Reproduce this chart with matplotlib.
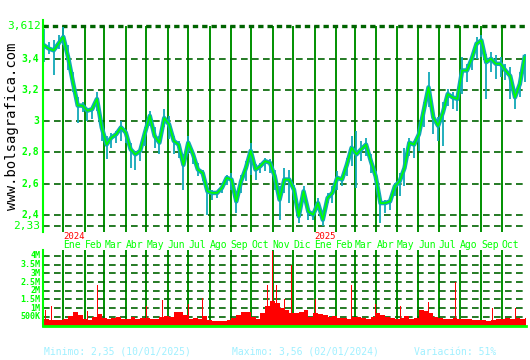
import matplotlib
matplotlib.use('Agg')
import matplotlib.pyplot as plt
import pandas as pd

# weekly closes / highs / lows, starting monday 2023-12-04
close = [3.486, 3.465, 3.454, 3.497, 3.540, 3.410, 3.250, 3.100, 3.100, 3.067,
         3.077, 3.142, 2.960, 2.850, 2.895, 2.916, 2.960, 2.927, 2.820, 2.787,
         2.810, 2.927, 3.034, 2.905, 2.862, 3.020, 2.980, 2.873, 2.850, 2.720,
         2.862, 2.787, 2.690, 2.668, 2.550, 2.540, 2.540, 2.572, 2.637, 2.626,
         2.486, 2.615, 2.700, 2.810, 2.690, 2.712, 2.744, 2.733, 2.647, 2.497,
         2.626, 2.626, 2.561, 2.390, 2.550, 2.420, 2.400, 2.475, 2.368, 2.508,
         2.540, 2.637, 2.626, 2.720, 2.830, 2.787, 2.820, 2.850, 2.744, 2.647,
         2.475, 2.475, 2.486, 2.583, 2.615, 2.700, 2.862, 2.850, 2.916, 3.067,
         3.217, 3.024, 2.970, 3.056, 3.174, 3.153, 3.142, 3.325, 3.325, 3.400,
         3.497, 3.518, 3.378, 3.400, 3.368, 3.368, 3.325, 3.290, 3.153, 3.238,
         3.410]
high = [3.594, 3.508, 3.519, 3.551, 3.605, 3.486, 3.314, 3.153, 3.120, 3.067,
        3.077, 3.185, 3.003, 2.905, 2.927, 2.938, 3.003, 2.938, 2.862, 2.787,
        2.830, 2.960, 3.067, 2.960, 2.905, 3.077, 3.034, 2.905, 2.873, 2.787,
        2.905, 2.810, 2.733, 2.690, 2.583, 2.560, 2.550, 2.583, 2.658, 2.668,
        2.508, 2.658, 2.744, 2.862, 2.723, 2.733, 2.766, 2.755, 2.690, 2.583,
        2.701, 2.690, 2.594, 2.422, 2.583, 2.443, 2.411, 2.508, 2.400, 2.540,
        2.583, 2.680, 2.637, 2.766, 2.905, 2.938, 2.873, 2.895, 2.787, 2.680,
        2.540, 2.497, 2.508, 2.605, 2.668, 2.830, 2.895, 2.873, 2.960, 3.120,
        3.314, 3.077, 3.024, 3.120, 3.207, 3.185, 3.174, 3.411, 3.368, 3.432,
        3.540, 3.551, 3.432, 3.443, 3.422, 3.411, 3.368, 3.347, 3.174, 3.314,
        3.432]
low = [3.379, 3.432, 3.293, 3.465, 3.486, 3.325, 3.185, 2.991, 3.056, 3.003,
       3.013, 3.067, 2.873, 2.756, 2.830, 2.862, 2.873, 2.862, 2.701, 2.690,
       2.744, 2.840, 2.970, 2.830, 2.787, 2.960, 2.884, 2.787, 2.766, 2.560,
       2.787, 2.723, 2.647, 2.615, 2.401, 2.497, 2.508, 2.540, 2.594, 2.561,
       2.411, 2.540, 2.615, 2.658, 2.626, 2.669, 2.680, 2.669, 2.561, 2.368,
       2.540, 2.475, 2.497, 2.347, 2.497, 2.368, 2.368, 2.433, 2.326, 2.475,
       2.475, 2.561, 2.583, 2.647, 2.712, 2.572, 2.744, 2.776, 2.669, 2.583,
       2.347, 2.411, 2.433, 2.519, 2.519, 2.583, 2.776, 2.766, 2.808, 2.960,
       3.088, 2.917, 2.873, 2.842, 3.098, 3.077, 3.067, 3.174, 3.250, 3.325,
       3.400, 3.411, 3.142, 3.314, 3.271, 3.282, 3.261, 3.142, 3.077, 3.152,
       3.250]

# weekly base volume (thousands)
volume_k = [350, 300, 330, 300, 380, 550, 800, 600, 350, 330,
            500, 650, 450, 400, 450, 500, 400, 400, 500, 380,
            450, 450, 350, 400, 500, 550, 500, 750, 800, 600,
            400, 450, 400, 550, 300, 250, 250, 280, 300, 450,
            600, 750, 800, 500, 400, 700, 1100, 1400, 1300, 1000,
            900, 700, 700, 800, 900, 500, 700, 650, 600, 500,
            550, 450, 450, 400, 500, 500, 450, 400, 500, 700,
            600, 500, 450, 400, 450, 550, 350, 450, 900, 850,
            700, 500, 450, 400, 400, 450, 350, 380, 350, 300,
            320, 300, 280, 300, 350, 400, 450, 400, 420, 400,
            450]

# single day volume spikes
spike_dates = ['2023-12-06', '2023-12-15', '2024-02-05', '2024-02-20', '2024-05-01',
               '2024-05-24', '2024-07-01', '2024-07-22', '2024-10-25', '2024-11-01',
               '2024-11-07', '2024-11-18', '2024-11-28', '2025-01-02', '2025-02-24',
               '2025-03-31', '2025-05-06', '2025-06-16', '2025-07-25', '2025-09-17',
               '2025-10-21']
spike_k = [890, 1120, 830, 2300, 1120, 1450, 1260, 1600, 2300, 4300,
           2300, 1500, 3450, 1500, 2300, 1250, 1100, 1350, 2500, 980, 980]

months = ['Ene', 'Feb', 'Mar', 'Abr', 'May', 'Jun', 'Jul', 'Ago', 'Sep', 'Oct', 'Nov', 'Dic']
price_ticks = [3.4, 3.2, 3.0, 2.8, 2.6, 2.4]
price_labels = ['3,4', '3,2', '3', '2,8', '2,6', '2,4']
vol_ticks = [500e3, 1e6, 1.5e6, 2e6, 2.5e6, 3e6, 3.5e6, 4e6]
vol_labels = ['500K', '1M', '1.5M', '2M', '2.5M', '3M', '3.5M', '4M']

W, H = 530, 360
MONO = 'DejaVu Sans Mono'
BRIGHT = '#00ff00'
CYAN = '#10a8b8'
VGRID = '#009000'
HGRID = '#006400'


def rect(x0, y0, x1, y1):
    return [x0 / W, 1 - y1 / H, (x1 - x0) / W, (y1 - y0) / H]


weeks = pd.date_range('2023-12-04', periods=len(close), freq='7D')
month_starts = pd.date_range('2024-01-01', '2025-10-01', freq='MS')
xmin = pd.Timestamp('2023-12-02 10:00')
xmax = pd.Timestamp('2025-11-05')

fig = plt.figure(figsize=(W / 100, H / 100), dpi=100)
fig.patch.set_facecolor('white')

# price panel
ax = fig.add_axes(rect(43, 20, 526, 232))
ax.set_xlim(xmin, xmax)
ax.set_ylim(2.2896, 3.6485)
for s in ['top', 'right', 'bottom']:
    ax.spines[s].set_visible(False)
ax.spines['left'].set_color(BRIGHT)
ax.spines['left'].set_linewidth(1.5)
ax.set_xticks([])
ax.set_yticks([])

ax.vlines(month_starts, 2.2896, 3.612, color=VGRID, lw=1.4, zorder=1)
for v in price_ticks + [2.33]:
    ax.axhline(v, color=HGRID, lw=1.2, ls=(0, (4, 2.6)), zorder=1)
ax.axhline(3.612, color=HGRID, lw=2.4, ls=(0, (1.6, 1.2)), zorder=1)

ax.vlines(weeks, low, high, color=CYAN, lw=1.3, zorder=2)
ax.plot(weeks, close, color=CYAN, lw=3.2, zorder=2)
ax.plot(weeks, close, color=BRIGHT, lw=1.2, zorder=3)

for v, lab in zip(price_ticks, price_labels):
    ax.text(-0.008, v, lab, transform=ax.get_yaxis_transform(), ha='right', va='center',
            color=BRIGHT, fontsize=7, family=MONO, fontweight='bold')
ax.text(-0.005, 3.612, '3,612', transform=ax.get_yaxis_transform(), ha='right', va='center',
        color=BRIGHT, fontsize=8, family=MONO)
ax.text(-0.005, 2.33, '2,33', transform=ax.get_yaxis_transform(), ha='right', va='center',
        color=BRIGHT, fontsize=8, family=MONO)

# volume panel
vx = fig.add_axes(rect(43, 250, 526, 325.5))
vx.set_xlim(xmin, xmax)
vx.set_ylim(0, 4.34e6)
for s in ['top', 'right']:
    vx.spines[s].set_visible(False)
vx.spines['left'].set_color(BRIGHT)
vx.spines['bottom'].set_color(BRIGHT)
vx.spines['left'].set_linewidth(1.5)
vx.spines['bottom'].set_linewidth(2)
vx.set_xticks([])
vx.set_yticks([])

vx.vlines(month_starts, 0, 4.34e6, color=VGRID, lw=1.4, zorder=1)
for v in vol_ticks:
    vx.axhline(v, color=HGRID, lw=1.2, ls=(0, (4, 2.6)), zorder=1)

vx.bar(weeks, [v * 1000 for v in volume_k], width=7, align='edge', color='#ff0000', lw=0, zorder=2)
vx.bar(pd.to_datetime(spike_dates), [v * 1000 for v in spike_k], width=1.2, color='#ff0000', lw=0, zorder=2)

for v, lab in zip(vol_ticks, vol_labels):
    vx.text(-0.005, v, lab, transform=vx.get_yaxis_transform(), ha='right', va='center',
            color=BRIGHT, fontsize=6, family=MONO, fontweight='bold')

# month and year labels between panels
for d in month_starts:
    ax.text(d, -0.06, months[d.month - 1], transform=ax.get_xaxis_transform(), ha='left', va='center',
            color=BRIGHT, fontsize=7, family=MONO)
    if d.month == 1:
        ax.text(d, -0.02, str(d.year), transform=ax.get_xaxis_transform(), ha='left', va='center',
                color='#ff0000', fontsize=6.5, family=MONO)

fig.text(12.5 / W, 1 - 126 / H, 'www.bolsagrafica.com', rotation=90, ha='center', va='center',
         color='black', fontsize=10, family=MONO)

foot = '#a0f0ff'
fig.text(44 / W, 1 - 352 / H, 'Minimo: 2,35 (10/01/2025)', color=foot, fontsize=7, family=MONO, va='center')
fig.text(232 / W, 1 - 352 / H, 'Maximo: 3,56 (02/01/2024)', color=foot, fontsize=7, family=MONO, va='center')
fig.text(414 / W, 1 - 352 / H, 'Variación: 51%', color=foot, fontsize=7, family=MONO, va='center')

fig.savefig('out.png', dpi=100, facecolor='white')
